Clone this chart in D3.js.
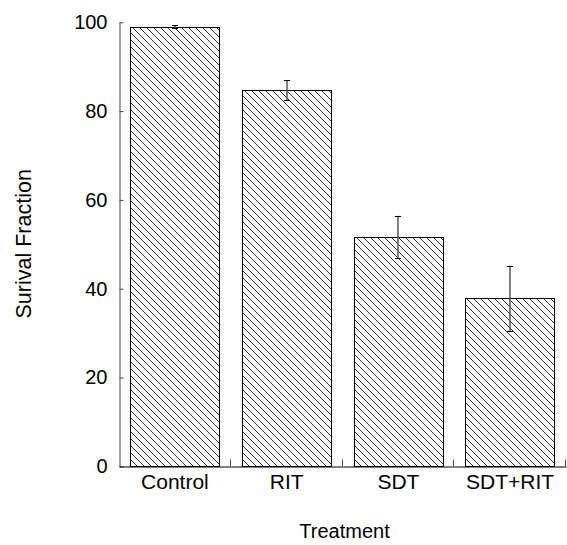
<!DOCTYPE html>
<html>
<head>
<meta charset="utf-8">
<script src="https://cdn.jsdelivr.net/npm/d3@7"></script>
<style>
  body { margin: 0; background: #fff; }
  svg text { font-family: "Liberation Sans", Arial, sans-serif; fill: #000; }
</style>
</head>
<body>
<div id="chart"></div>
<script>
// data
const categories = ['Control', 'RIT', 'SDT', 'SDT+RIT'];
const means = [98.9, 84.6, 51.5, 37.7];
const errors = [0.3, 2.3, 4.8, 7.4];
const yTicks = [0, 20, 40, 60, 80, 100];

const W = 567, H = 545;
const margin = {top: 21.8, right: 1, bottom: 79.2, left: 119};
const x0 = margin.left, x1 = W - margin.right;
const yBottom = H - margin.bottom, yTop = margin.top;

const svg = d3.select('#chart').append('svg')
    .attr('width', W)
    .attr('height', H);

// hatch fill
const pat = svg.append('defs').append('pattern')
    .attr('id', 'hatch')
    .attr('patternUnits', 'userSpaceOnUse')
    .attr('width', 7)
    .attr('height', 7);
pat.append('path')
    .attr('d', 'M0,0 L7,7 M-1,6 L1,8 M6,-1 L8,1')
    .attr('stroke', '#333')
    .attr('stroke-width', 1);

const xScale = d3.scaleBand()
    .domain(categories)
    .range([x0, x1])
    .paddingInner(0.2)
    .paddingOuter(0.1);

const yScale = d3.scaleLinear()
    .domain([0, 100])
    .range([yBottom, yTop]);

const rows = categories.map(function(c, i){
    return {cat: c, mean: means[i], err: errors[i]};
});

// bars
svg.selectAll('rect.bar')
    .data(rows)
  .enter().append('rect')
    .attr('class', 'bar')
    .attr('x', function(d){ return Math.round(xScale(d.cat)) + 0.5; })
    .attr('y', function(d){ return Math.round(yScale(d.mean)) + 0.5; })
    .attr('width', Math.round(xScale.bandwidth()))
    .attr('height', function(d){ return Math.round(yScale(0)) - Math.round(yScale(d.mean)); })
    .attr('fill', 'url(#hatch)')
    .attr('stroke', '#000')
    .attr('stroke-width', 1);

// error bars
const eb = svg.selectAll('g.err')
    .data(rows)
  .enter().append('g')
    .attr('class', 'err')
    .attr('transform', function(d){
        return 'translate(' + (Math.round(xScale(d.cat) + xScale.bandwidth() / 2)) + ',0)';
    });
eb.append('line')
    .attr('x1', 0).attr('x2', 0)
    .attr('y1', function(d){ return yScale(d.mean + d.err); })
    .attr('y2', function(d){ return yScale(d.mean - d.err); })
    .attr('stroke', '#555')
    .attr('stroke-width', 1.5);
eb.selectAll('line.cap')
    .data(function(d){ return [d.mean + d.err, d.mean - d.err]; })
  .enter().append('line')
    .attr('class', 'cap')
    .attr('x1', -3).attr('x2', 3)
    .attr('y1', function(v){ return Math.round(yScale(v)) + 0.5; })
    .attr('y2', function(v){ return Math.round(yScale(v)) + 0.5; })
    .attr('stroke', '#000')
    .attr('stroke-width', 1);

// y axis, ticks pointing inward
const yAxis = d3.axisLeft(yScale)
    .tickValues(yTicks)
    .tickSizeInner(-4)
    .tickSizeOuter(0)
    .tickPadding(12);

const gy = svg.append('g')
    .attr('transform', 'translate(' + (x0 + 0.5) + ',0.5)')
    .call(yAxis);
gy.select('.domain').attr('stroke', '#444');
gy.selectAll('.tick line').attr('stroke', '#444');
gy.selectAll('text')
    .style('font-size', '20px')
    .attr('font-family', null);

// x axis: labels only, boundary ticks drawn separately
const xAxis = d3.axisBottom(xScale)
    .tickSize(0)
    .tickPadding(8);

const gx = svg.append('g')
    .attr('transform', 'translate(0,' + (Math.round(yBottom) + 0.5) + ')')
    .call(xAxis);
gx.select('.domain').attr('stroke', '#000');
gx.selectAll('text')
    .style('font-size', '21px')
    .attr('font-family', null);

const half = xScale.step() * xScale.paddingInner() / 2;
const bounds = categories.map(function(c){ return xScale(c) + xScale.bandwidth() + half; });
gx.selectAll('line.sep')
    .data(bounds)
  .enter().append('line')
    .attr('class', 'sep')
    .attr('x1', function(v){ return Math.round(v) - 0.5; })
    .attr('x2', function(v){ return Math.round(v) - 0.5; })
    .attr('y1', 0)
    .attr('y2', -7)
    .attr('stroke', '#444');

// axis titles
svg.append('text')
    .attr('x', (x0 + x1) / 2 + 2)
    .attr('y', 538)
    .attr('text-anchor', 'middle')
    .style('font-size', '20px')
    .text('Treatment');

svg.append('text')
    .attr('transform', 'translate(31,' + ((yTop + yBottom) / 2) + ') rotate(-90)')
    .attr('text-anchor', 'middle')
    .style('font-size', '21.5px')
    .text('Surival Fraction');
</script>
</body>
</html>
